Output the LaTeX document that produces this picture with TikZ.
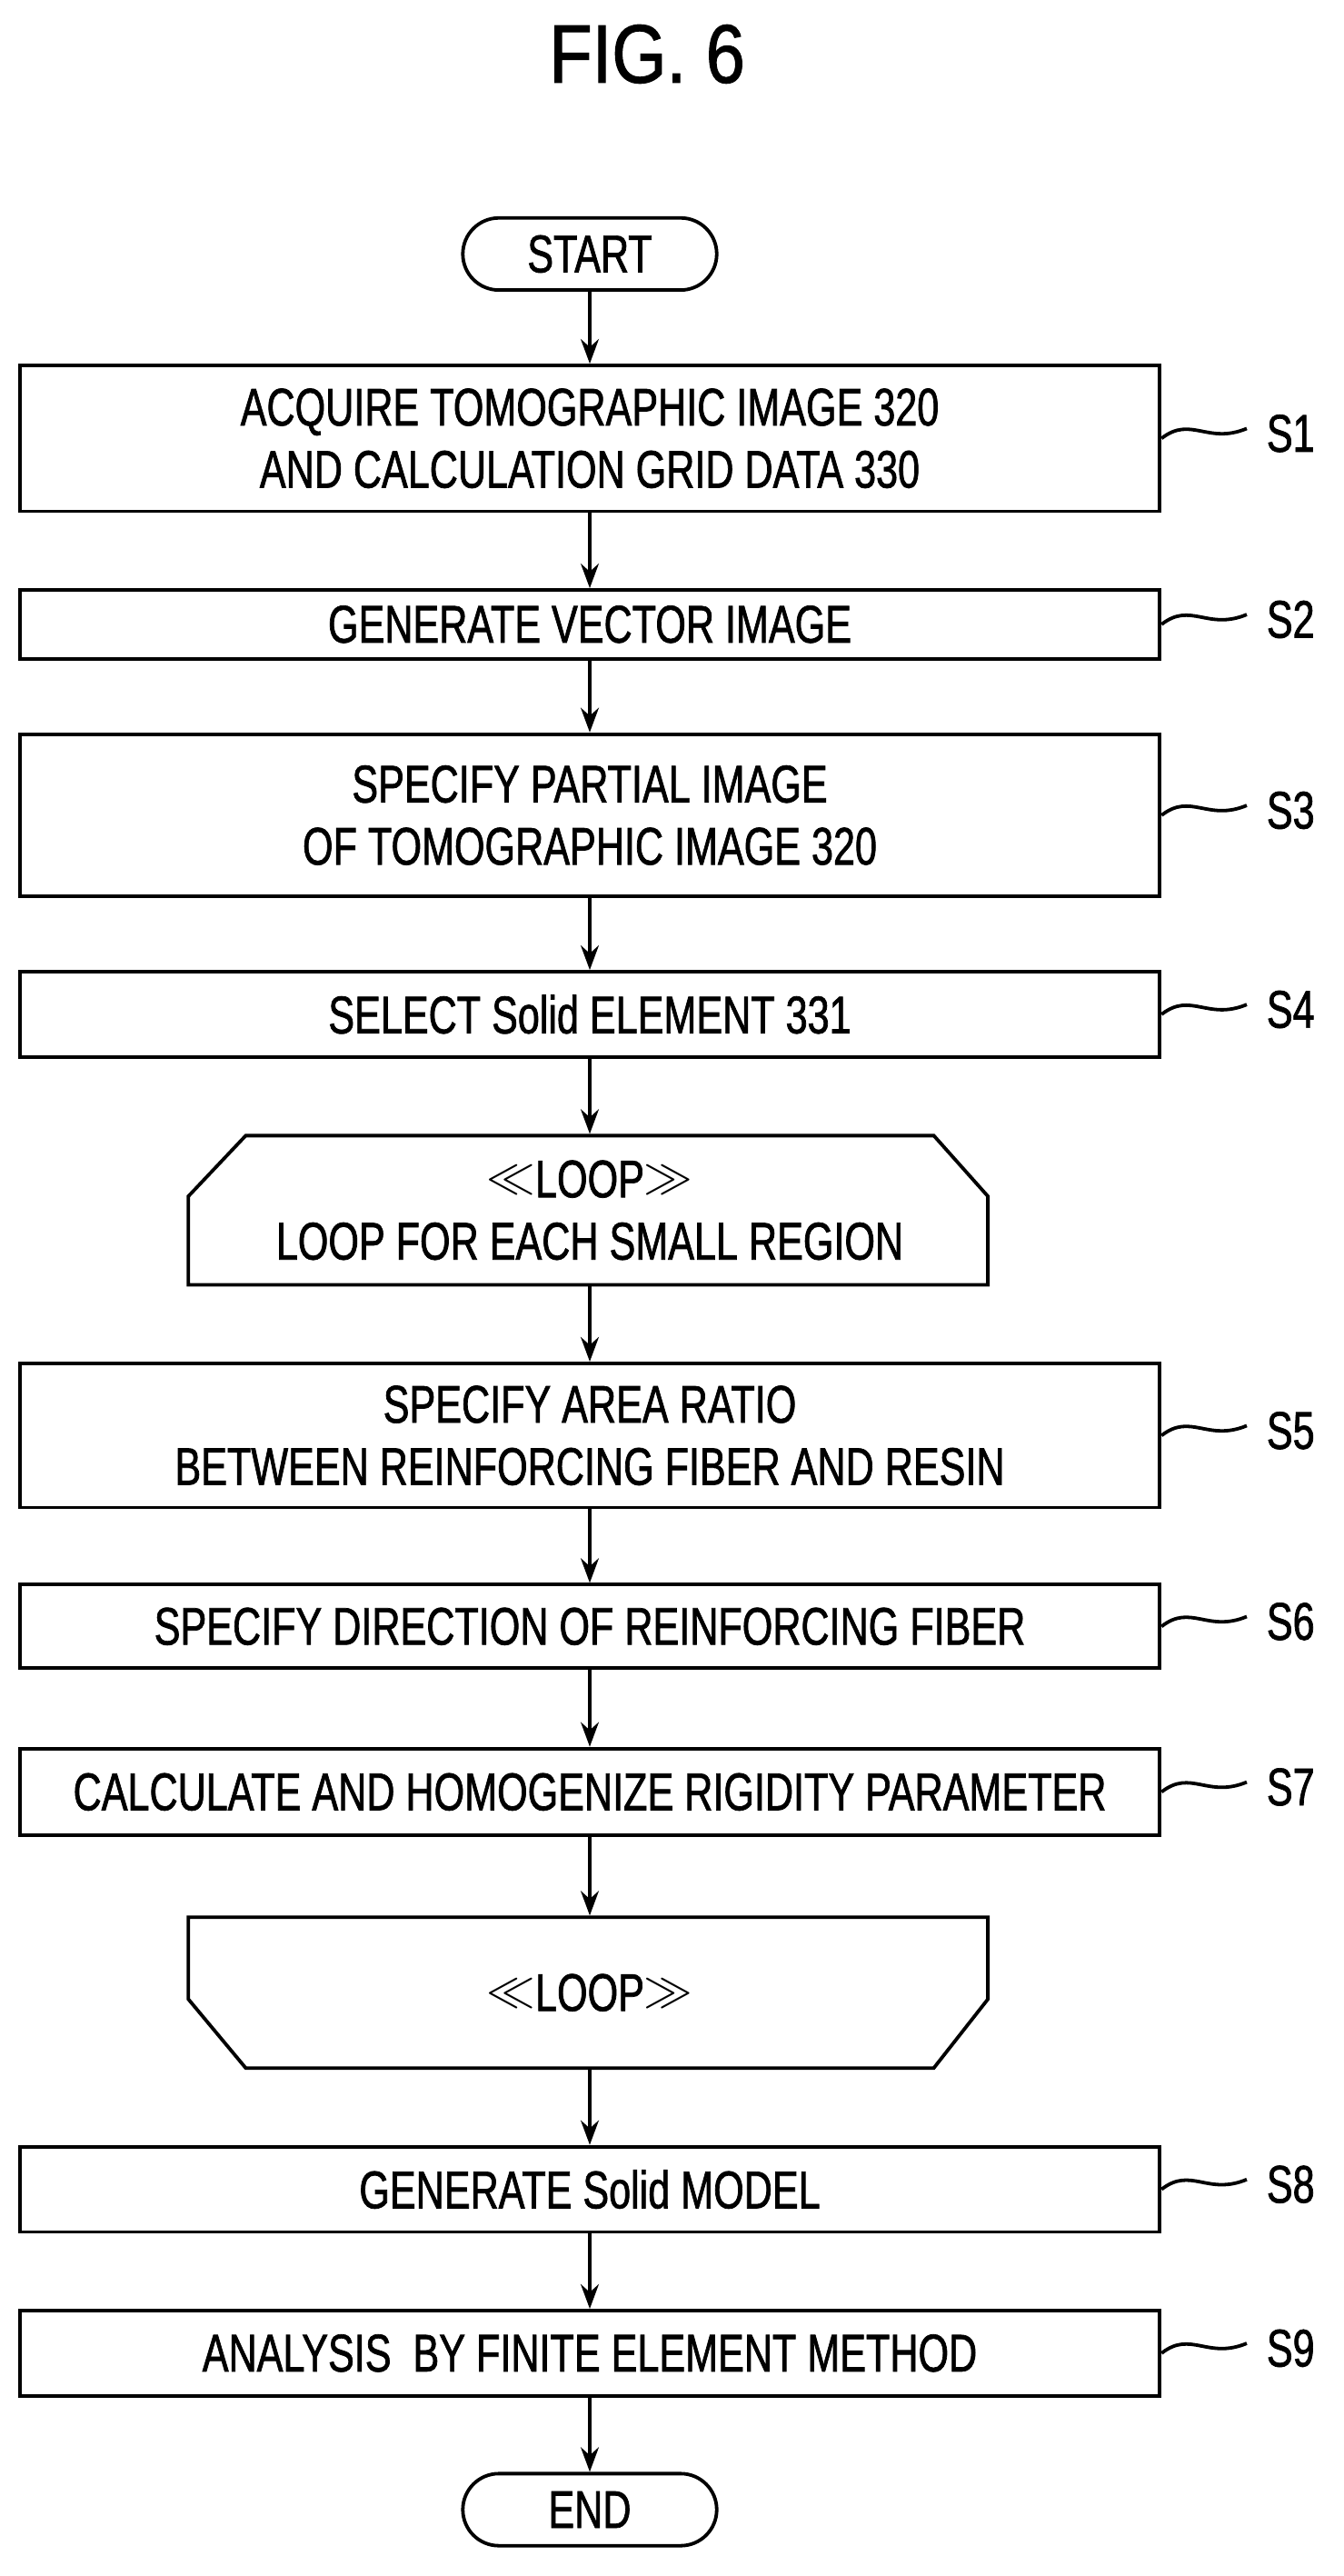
\documentclass[tikz,border=0pt]{standalone}
\usepackage{fontspec}
\setmainfont{Liberation Sans}[FakeStretch=0.74, FakeBold=1.2]
\newfontfamily\titlefont{Liberation Sans}[FakeStretch=0.85, FakeBold=1.2]
\usetikzlibrary{arrows.meta}
\tikzset{
  stepbox/.style={draw, line width=3pt, minimum width=34.8cm, align=center,
    font=\fontsize{46}{54}\selectfont, inner sep=0pt},
  termbox/.style={draw, line width=3pt, rounded corners=1.1cm, minimum width=7.75cm,
    minimum height=2.2cm, font=\fontsize{46}{54}\selectfont, inner sep=0pt},
  flow/.style={line width=3pt, -{Stealth[length=0.75cm, width=0.55cm]}},
  steplabel/.style={font=\fontsize{46}{54}\selectfont, anchor=west, inner sep=0pt},
}
\newcommand{\loopmark}[1]{\raisebox{0.1em}{\scalebox{1.7}{$\ll$}}#1\raisebox{0.1em}{\scalebox{1.7}{$\gg$}}}
\newcommand{\stepwave}[2]{%
  \draw[line width=3pt] (#1.east) .. controls ([xshift=0.9cm,yshift=0.7cm]#1.east) and ([xshift=1.4cm,yshift=-0.2cm]#1.east) .. ([xshift=2.6cm,yshift=0.3cm]#1.east);
  \node[steplabel] at ([xshift=3.2cm,yshift=0.15cm]#1.east) {#2};}
\begin{document}
\begin{tikzpicture}[x=0.05cm, y=-0.05cm]
		\useasboundingbox (0,0) rectangle (820,1572);
		%%%%%%%%%%%%%
		\node[font=\titlefont\fontsize{72}{80}\selectfont] (title) at (395,33) {FIG. 6};
		\node[termbox] (start) at (360,155) {START};
		\node[stepbox, minimum height=4.45cm] (s1) at (360,267.5) {ACQUIRE TOMOGRAPHIC IMAGE 320\\AND CALCULATION GRID DATA 330};
		\node[stepbox, minimum height=2.1cm] (s2) at (360,381) {GENERATE VECTOR IMAGE};
		\node[stepbox, minimum height=4.95cm] (s3) at (360,497.5) {SPECIFY PARTIAL IMAGE\\OF TOMOGRAPHIC IMAGE 320};
		\node[stepbox, minimum height=2.6cm] (s4) at (360,619) {SELECT Solid ELEMENT 331};
		\node[stepbox, draw=none, minimum height=4.55cm] (loopa) at (360,738.5) {\loopmark{LOOP}\\LOOP FOR EACH SMALL REGION};
		\node[stepbox, minimum height=4.4cm] (s5) at (360,876) {SPECIFY AREA RATIO\\BETWEEN REINFORCING FIBER AND RESIN};
		\node[stepbox, minimum height=2.55cm] (s6) at (360,992.5) {SPECIFY DIRECTION OF REINFORCING FIBER};
		\node[stepbox, minimum height=2.65cm] (s7) at (360,1093.5) {CALCULATE AND HOMOGENIZE RIGIDITY PARAMETER};
		\node[stepbox, draw=none, minimum height=4.6cm] (loopb) at (360,1216) {\loopmark{LOOP}};
		\node[stepbox, minimum height=2.6cm] (s8) at (360,1336) {GENERATE Solid MODEL};
		\node[stepbox, minimum height=2.6cm] (s9) at (360,1436) {ANALYSIS\ \ BY FINITE ELEMENT METHOD};
		\node[termbox] (end) at (360,1531.5) {END};
		%%%%%%%%%%%%%
		\draw[line width=3pt, line join=miter] (115,784) -- (115,730) -- (150,693) -- (570,693) -- (603,730) -- (603,784) -- cycle;
		\draw[line width=3pt, line join=miter] (115,1170) -- (603,1170) -- (603,1220) -- (570,1262) -- (150,1262) -- (115,1220) -- cycle;
		%%%%%%%%%%%%%
		\draw[flow] (start) -- (s1); \draw[flow] (s1) -- (s2);
		\draw[flow] (s2) -- (s3); \draw[flow] (s3) -- (s4);
		\draw[flow] (s4) -- (loopa); \draw[flow] (loopa) -- (s5);
		\draw[flow] (s5) -- (s6); \draw[flow] (s6) -- (s7);
		\draw[flow] (s7) -- (loopb); \draw[flow] (loopb) -- (s8);
		\draw[flow] (s8) -- (s9); \draw[flow] (s9) -- (end);
		%%%%%%%%%%%%%
		\stepwave{s1}{S1} \stepwave{s2}{S2} \stepwave{s3}{S3}
		\stepwave{s4}{S4} \stepwave{s5}{S5} \stepwave{s6}{S6}
		\stepwave{s7}{S7} \stepwave{s8}{S8} \stepwave{s9}{S9}
\end{tikzpicture}
\end{document}
